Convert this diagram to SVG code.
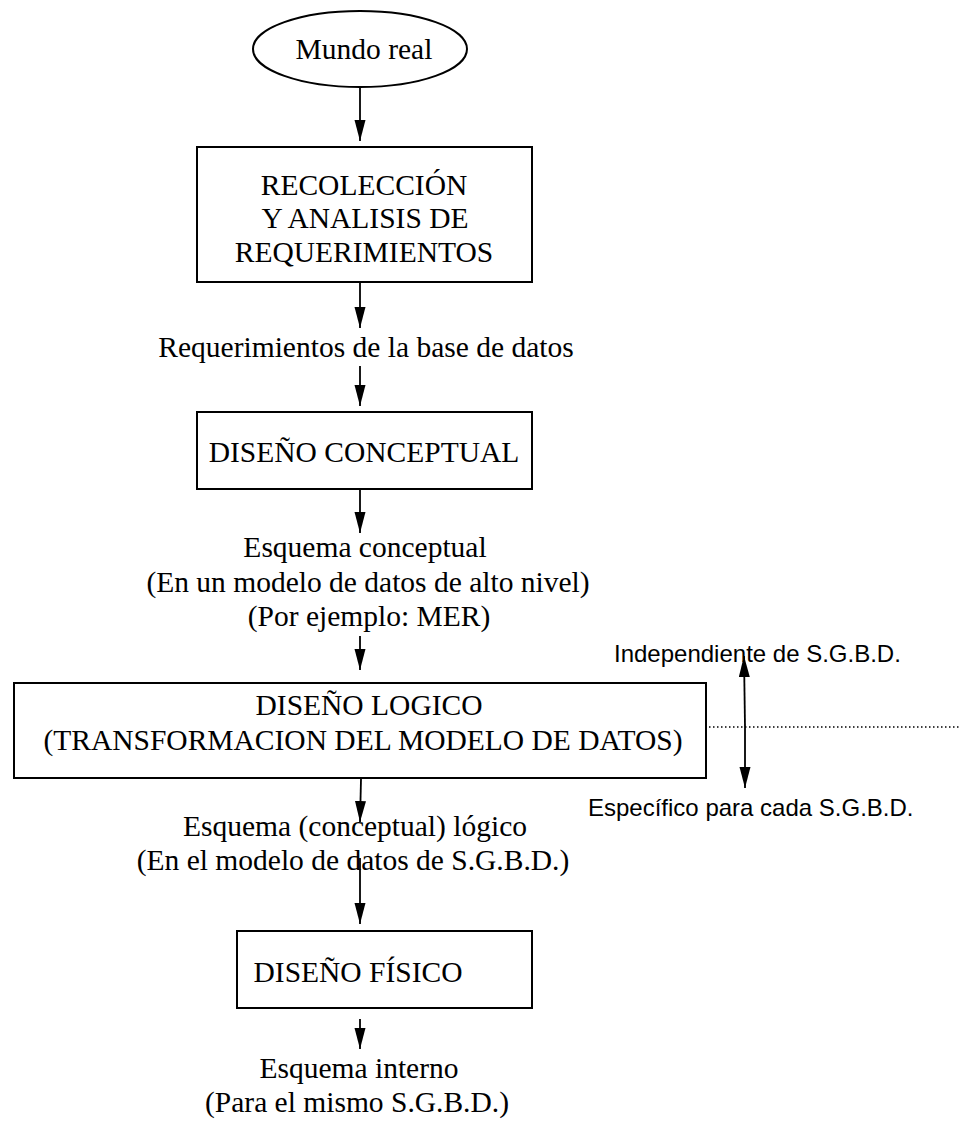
<svg xmlns="http://www.w3.org/2000/svg" width="969" height="1126" viewBox="0 0 969 1126">
  <defs>
    <marker id="head" markerUnits="userSpaceOnUse" markerWidth="22" markerHeight="12" refX="21" refY="5.5" orient="auto-start-reverse">
      <path d="M0,0 L21,5.5 L0,11 Z" fill="#000"/>
    </marker>
    <style>
      .box { fill: #fff; stroke: #000; stroke-width: 2; }
      .edge { stroke: #000; stroke-width: 1.8; fill: none; marker-end: url(#head); }
      .serif { font-family: "Liberation Serif", "Times New Roman", serif; font-size: 29.5px; fill: #000; text-anchor: middle; }
      .sans { font-family: "Liberation Sans", Arial, sans-serif; font-size: 24px; fill: #000; }
    </style>
  </defs>
  <rect width="969" height="1126" fill="#fff"/>

  <!-- connectors -->
  <g id="connectors">
    <line class="edge" x1="360" y1="88" x2="360" y2="141"/>
    <line class="edge" x1="360" y1="283" x2="360" y2="328"/>
    <line class="edge" x1="360" y1="366" x2="360" y2="406"/>
    <line class="edge" x1="360" y1="490" x2="360" y2="533"/>
    <line class="edge" x1="360" y1="636" x2="360" y2="670"/>
    <line class="edge" x1="361" y1="779" x2="360" y2="822"/>
    <line class="edge" x1="360" y1="858" x2="360" y2="924"/>
    <line class="edge" x1="360" y1="1019" x2="360" y2="1049"/>
    <!-- DBMS-independence scale -->
    <line class="edge" x1="745" y1="727" x2="744" y2="656"/>
    <line class="edge" x1="745" y1="727" x2="745" y2="788"/>
    <line x1="709" y1="727" x2="961" y2="727" stroke="#000" stroke-width="1.5" stroke-dasharray="1.5,2.5"/>
  </g>

  <g id="mundo-real">
    <ellipse cx="360" cy="49" rx="107" ry="38" class="box"/>
    <text class="serif" x="364" y="59">Mundo real</text>
  </g>

  <g id="recoleccion">
    <rect class="box" x="197" y="147" width="335" height="135"/>
    <text class="serif" x="364" y="195">RECOLECCIÓN</text>
    <text class="serif" x="365" y="228">Y ANALISIS DE</text>
    <text class="serif" x="364" y="262">REQUERIMIENTOS</text>
  </g>

  <g id="requerimientos">
    <text class="serif" x="366" y="357">Requerimientos de la base de datos</text>
  </g>

  <g id="diseno-conceptual">
    <rect class="box" x="197" y="412" width="335" height="77"/>
    <text class="serif" x="364" y="462">DISEÑO CONCEPTUAL</text>
  </g>

  <g id="esquema-conceptual">
    <text class="serif" x="365" y="557">Esquema conceptual</text>
    <text class="serif" x="368" y="592">(En un modelo de datos de alto nivel)</text>
    <text class="serif" x="369" y="626">(Por ejemplo: MER)</text>
  </g>

  <g id="diseno-logico">
    <rect class="box" x="14" y="683" width="692" height="95"/>
    <text class="serif" x="369" y="715">DISEÑO LOGICO</text>
    <text class="serif" x="363" y="750">(TRANSFORMACION DEL MODELO DE DATOS)</text>
  </g>

  <g id="esquema-logico">
    <text class="serif" x="355" y="836">Esquema (conceptual) lógico</text>
    <text class="serif" x="353" y="870">(En el modelo de datos de S.G.B.D.)</text>
  </g>

  <g id="diseno-fisico">
    <rect class="box" x="237" y="931" width="295" height="77"/>
    <text class="serif" x="358" y="982">DISEÑO FÍSICO</text>
  </g>

  <g id="esquema-interno">
    <text class="serif" x="359" y="1078">Esquema interno</text>
    <text class="serif" x="357" y="1112">(Para el mismo S.G.B.D.)</text>
  </g>

  <g id="independiente">
    <text class="sans" x="614" y="662">Independiente de S.G.B.D.</text>
  </g>
  <g id="especifico">
    <text class="sans" x="588" y="816">Específico para cada S.G.B.D.</text>
  </g>
</svg>
